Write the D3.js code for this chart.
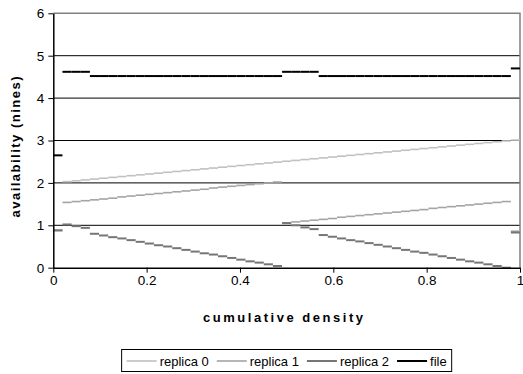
<!DOCTYPE html>
<html>
<head>
<meta charset="utf-8">
<script src="https://cdn.jsdelivr.net/npm/d3@7"></script>
<style>
  body { margin: 0; background: #fff; }
  svg { display: block; }
  svg text { font-family: Arial, "Liberation Sans", Helvetica, sans-serif; }
</style>
</head>
<body>
<div id="chart"></div>
<script>
// step values, one per bin of width 1/51 along the cumulative density axis
const seriesNames = ['replica 0', 'replica 1', 'replica 2', 'file'];
const replica0 = [0.88,
  2.03, 2.05, 2.07, 2.09, 2.11, 2.13, 2.15, 2.17, 2.19, 2.21,
  2.23, 2.25, 2.27, 2.29, 2.31, 2.33, 2.35, 2.37, 2.39, 2.41,
  2.43, 2.45, 2.47, 2.49, 2.51, 2.53, 2.55, 2.57, 2.59, 2.61,
  2.63, 2.65, 2.67, 2.69, 2.71, 2.73, 2.75, 2.77, 2.79, 2.81,
  2.83, 2.85, 2.87, 2.89, 2.91, 2.93, 2.95, 2.97, 2.99, 3.01];
const replica1 = [0.88,
  1.54, 1.56, 1.58, 1.60, 1.62, 1.64, 1.67, 1.69, 1.71, 1.73,
  1.75, 1.77, 1.79, 1.81, 1.83, 1.85, 1.88, 1.90, 1.92, 1.94,
  1.96, 1.98, 2.00, 2.02, 1.06, 1.08, 1.10, 1.12, 1.14, 1.16,
  1.19, 1.21, 1.23, 1.25, 1.27, 1.29, 1.31, 1.33, 1.35, 1.37,
  1.40, 1.42, 1.44, 1.46, 1.48, 1.50, 1.52, 1.54, 1.56, 0.86];
const replica2 = [0.88,
  1.02, 0.98, 0.94, 0.80, 0.76, 0.72, 0.69, 0.65, 0.61, 0.57,
  0.53, 0.50, 0.46, 0.42, 0.38, 0.34, 0.31, 0.27, 0.23, 0.19,
  0.15, 0.12, 0.08, 0.04, 1.05, 1.00, 0.95, 0.91, 0.77, 0.73,
  0.69, 0.65, 0.62, 0.58, 0.54, 0.50, 0.46, 0.42, 0.38, 0.35,
  0.31, 0.27, 0.23, 0.19, 0.15, 0.12, 0.08, 0.04, 0.00, 0.83];
const fileAvail = [2.65,
  4.62, 4.62, 4.62, 4.52, 4.52, 4.52, 4.52, 4.52, 4.52, 4.52,
  4.52, 4.52, 4.52, 4.52, 4.52, 4.52, 4.52, 4.52, 4.52, 4.52,
  4.52, 4.52, 4.52, 4.52, 4.62, 4.62, 4.62, 4.62, 4.52, 4.52,
  4.52, 4.52, 4.52, 4.52, 4.52, 4.52, 4.52, 4.52, 4.52, 4.52,
  4.52, 4.52, 4.52, 4.52, 4.52, 4.52, 4.52, 4.52, 4.52, 4.70];
const xTicks = [0, 0.2, 0.4, 0.6, 0.8, 1];
const yTicks = [0, 1, 2, 3, 4, 5, 6];

const width = 523, height = 374;
const plotLeft = 53.3, plotRight = 520, plotTop = 13.3, plotBottom = 267.7;
const fontStack = 'Arial, "Liberation Sans", Helvetica, sans-serif';
const colors = ['#c0c0c0', '#a4a4a4', '#767676', '#000000'];
const widths = [1.6, 1.6, 2, 2];

const svg = d3.select('#chart').append('svg')
  .attr('width', width)
  .attr('height', height)
  .attr('font-family', fontStack);

const x = d3.scaleLinear().domain([0, 1]).range([plotLeft, plotRight]);
const y = d3.scaleLinear().domain([0, 6]).range([plotBottom, plotTop]);

// gridlines
svg.append('g')
  .selectAll('line')
  .data(yTicks.filter(d => d > 0 && d < 6))
  .enter().append('line')
  .attr('x1', plotLeft).attr('x2', plotRight)
  .attr('y1', d => y(d)).attr('y2', d => y(d))
  .attr('stroke', '#000').attr('stroke-width', 1);

// plot border (top / right)
svg.append('path')
  .attr('d', `M${plotLeft},${y(6)}H${plotRight}V${plotBottom}`)
  .attr('fill', 'none')
  .attr('stroke', '#808080')
  .attr('stroke-width', 1.5);

// series as step segments
const n = fileAvail.length;
const allSeries = [replica0, replica1, replica2, fileAvail];
allSeries.forEach((vals, k) => {
  svg.append('g')
    .selectAll('line')
    .data(vals)
    .enter().append('line')
    .attr('x1', (d, i) => x(i / n))
    .attr('x2', (d, i) => x((i + 1) / n))
    .attr('y1', d => y(d))
    .attr('y2', d => y(d))
    .attr('stroke', colors[k])
    .attr('stroke-width', widths[k]);
});

// axes
const xAxis = svg.append('g')
  .attr('transform', `translate(0,${plotBottom})`)
  .call(d3.axisBottom(x).tickValues(xTicks).tickSize(5).tickPadding(3)
    .tickSizeOuter(0).tickFormat(d3.format('')));
const yAxis = svg.append('g')
  .attr('transform', `translate(${plotLeft},0)`)
  .call(d3.axisLeft(y).tickValues(yTicks).tickSize(5).tickPadding(4)
    .tickSizeOuter(0).tickFormat(d3.format('d')));
[xAxis, yAxis].forEach(a => {
  a.attr('font-family', fontStack);
  a.select('.domain').attr('stroke', '#000').attr('stroke-width', 1.5);
  a.selectAll('.tick line').attr('stroke', '#000');
  a.selectAll('text').attr('font-size', 13.5).attr('fill', '#000');
});

// axis titles
svg.append('text')
  .attr('x', 283).attr('y', 317)
  .attr('dy', '0.35em')
  .attr('text-anchor', 'middle')
  .attr('font-size', 13).attr('font-weight', 'bold')
  .attr('textLength', 160).attr('lengthAdjust', 'spacing')
  .text('cumulative density');

svg.append('text')
  .attr('transform', 'translate(15,147) rotate(-90)')
  .attr('dy', '0.35em')
  .attr('text-anchor', 'middle')
  .attr('font-size', 13).attr('font-weight', 'bold')
  .attr('textLength', 141).attr('lengthAdjust', 'spacing')
  .text('availability (nines)');

// legend
const legend = svg.append('g');
const box = legend.append('rect')
  .attr('fill', '#fff').attr('stroke', '#000').attr('stroke-width', 1);
let cx = 0;
seriesNames.forEach((name, k) => {
  const g = legend.append('g');
  g.append('line')
    .attr('x1', 0).attr('x2', 30)
    .attr('y1', 0).attr('y2', 0)
    .attr('stroke', colors[k]).attr('stroke-width', widths[k]);
  const t = g.append('text')
    .attr('x', 33).attr('dy', '0.35em')
    .attr('font-size', 13)
    .text(name);
  const w = 33 + t.node().getComputedTextLength();
  g.attr('transform', `translate(${cx},0)`);
  cx += w + 8;
});
const total = cx - 8;
const lx = (plotLeft + plotRight) / 2 - total / 2, ly = 361;
legend.attr('transform', `translate(${lx},${ly})`);
box.attr('x', -5).attr('y', -11.5).attr('width', total + 10).attr('height', 22);
</script>
</body>
</html>
